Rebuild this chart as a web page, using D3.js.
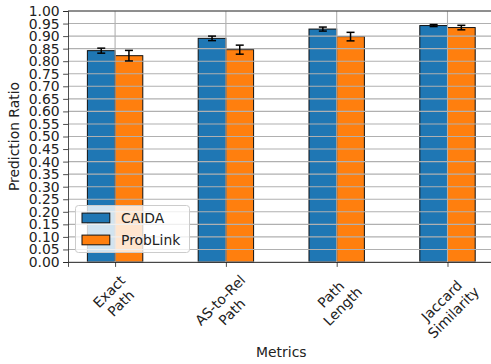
<!DOCTYPE html>
<html><head><meta charset="utf-8">
<script src="https://cdn.jsdelivr.net/npm/d3@7"></script>
<style>body{margin:0;background:#fff}svg{display:block}text{font-family:"DejaVu Sans",sans-serif;fill:#222}</style>
</head><body><svg id="c" width="491" height="364"></svg>
<script>
const categories = ["Exact\nPath", "AS-to-Rel\nPath", "Path\nLength", "Jaccard\nSimilarity"];
const seriesNames = ["CAIDA", "ProbLink"];
const caida = [0.842, 0.891, 0.928, 0.942];
const caidaErr = [0.010, 0.009, 0.008, 0.004];
const problink = [0.822, 0.846, 0.898, 0.934];
const problinkErr = [0.021, 0.018, 0.017, 0.009];
const yTicks = d3.range(0, 21).map(i => i * 0.05);
const colors = ["#1f77b4", "#ff7f0e"];

const svg = d3.select("#c");
const L = 68, T = 11, B = 262;
const x = d3.scaleLinear().domain([-0.425, 3.425]).range([L, L + 3.85 * 110.8]);
const y = d3.scaleLinear().domain([0, 1]).range([B, T]);
const fs = 13.9;
const bw = 0.25;

const series = [caida, problink];
const errs = [caidaErr, problinkErr];

// bars
series.forEach((vals, s) => {
  svg.append("g").selectAll("rect").data(vals).join("rect")
    .attr("x", (d, i) => x(i + (s === 0 ? -bw : 0)))
    .attr("width", x(bw) - x(0))
    .attr("y", d => y(d))
    .attr("height", d => y(0) - y(d))
    .attr("fill", colors[s])
    .attr("stroke", "#111").attr("stroke-width", 1);
});

// grid on top
const grid = svg.append("g");
yTicks.forEach(t => grid.append("line").attr("x1", L).attr("x2", 491).attr("y1", y(t)).attr("y2", y(t))
  .attr("stroke", "#b0b0b0").attr("stroke-width", 1.1));
categories.forEach((c, i) => grid.append("line").attr("x1", x(i)).attr("x2", x(i)).attr("y1", T).attr("y2", B)
  .attr("stroke", "#b0b0b0").attr("stroke-width", 1.1));

// error bars
series.forEach((vals, s) => {
  const g = svg.append("g").attr("stroke", "#000").attr("stroke-width", 1.5);
  vals.forEach((v, i) => {
    const cx = x(i + (s === 0 ? -bw / 2 : bw / 2));
    const e = errs[s][i];
    g.append("line").attr("x1", cx).attr("x2", cx).attr("y1", y(v - e)).attr("y2", y(v + e));
    [v - e, v + e].forEach(w => g.append("line").attr("x1", cx - 4).attr("x2", cx + 4).attr("y1", y(w)).attr("y2", y(w)));
  });
});

// axes
const yAxis = d3.axisLeft(y).tickValues(yTicks).tickFormat(d3.format(".2f")).tickSizeOuter(0).tickSize(4.9).tickPadding(3.5);
const ya = svg.append("g").attr("transform", `translate(${L},0)`).call(yAxis);
ya.selectAll("text").attr("font-size", fs).style("font-family", "DejaVu Sans").attr("fill", "#222");
ya.select(".domain").attr("stroke", "#222").attr("stroke-width", 0.8);
ya.selectAll(".tick line").attr("stroke", "#222").attr("stroke-width", 0.8);

const xAxis = d3.axisBottom(x).tickValues([0, 1, 2, 3]).tickFormat("").tickSizeOuter(0).tickSize(4.9);
const xa = svg.append("g").attr("transform", `translate(0,${B})`).call(xAxis);
xa.select(".domain").attr("stroke", "#222").attr("stroke-width", 0.8);
xa.selectAll(".tick line").attr("stroke", "#222").attr("stroke-width", 0.8);
svg.append("line").attr("x1", L).attr("x2", 491).attr("y1", T).attr("y2", T).attr("stroke", "#222").attr("stroke-width", 0.8);

// rotated x tick labels
categories.forEach((c, i) => {
  const outer = svg.append("g");
  const g = outer.append("g").attr("transform", "rotate(-45)");
  const lines = c.split("\n");
  lines.forEach((ln, k) => g.append("text").attr("text-anchor", "middle").attr("font-size", fs)
    .attr("y", k * fs * 1.2).text(ln));
  const bb = outer.node().getBBox();
  const cx = bb.x + bb.width / 2;
  outer.attr("transform", `translate(${x(i) - cx},${B + 4.9 + 4.9 - bb.y})`);
});

// axis labels
svg.append("text").attr("x", x(1.5)).attr("y", 357).attr("text-anchor", "middle").attr("font-size", fs).text("Metrics");
svg.append("text").attr("transform", `translate(19,${(T + B) / 2}) rotate(-90)`).attr("text-anchor", "middle")
  .attr("font-size", fs).text("Prediction Ratio");

// legend
const lg = svg.append("g");
lg.append("rect").attr("x", 75.5).attr("y", 205.5).attr("width", 114).attr("height", 47).attr("rx", 3)
  .attr("fill", "#fff").attr("fill-opacity", 0.8).attr("stroke", "#cccccc").attr("stroke-width", 1);
seriesNames.forEach((n, k) => {
  const cy = 218 + k * 22;
  lg.append("rect").attr("x", 82).attr("y", cy - 4.9).attr("width", 27.8).attr("height", 9.7)
    .attr("fill", colors[k]).attr("stroke", "#111").attr("stroke-width", 1);
  lg.append("text").attr("x", 121).attr("y", cy + 5).attr("font-size", fs).text(n);
});
</script></body></html>
